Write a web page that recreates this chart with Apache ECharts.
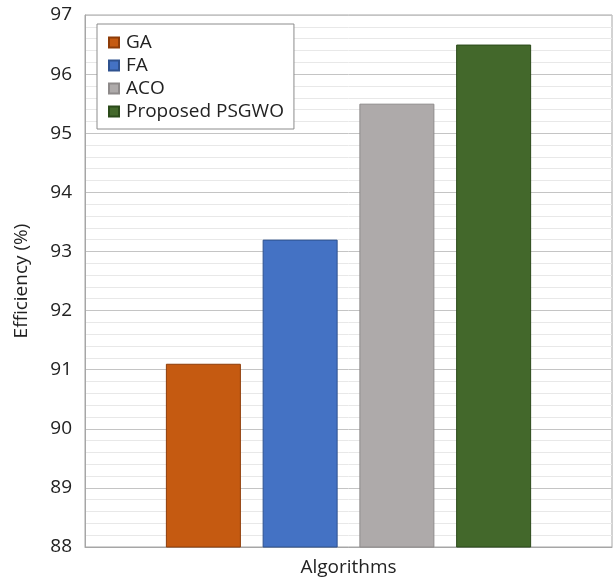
<!DOCTYPE html>
<html>
<head>
<meta charset="utf-8">
<script src="https://cdn.jsdelivr.net/npm/echarts@6/dist/echarts.min.js"></script>
<style>
  html, body { margin: 0; padding: 0; background: #fff; }
  #chart { width: 613px; height: 580px; }
</style>
</head>
<body>
<div id="chart"></div>
<script>
// Efficiency of each algorithm (%)
const categories = ['Algorithms'];
const algorithms = ['GA', 'FA', 'ACO', 'Proposed PSGWO'];
const efficiency = [91.1, 93.2, 95.5, 96.5];
const yTicks = { min: 88, max: 97, interval: 1 };

const fills = ['#C55A11', '#4472C4', '#AEAAAA', '#43682B'];
const edges = ['#8E3C08', '#2F528F', '#8E8A8A', '#2B4A1A'];
const font = '"Open Sans", "Liberation Sans", sans-serif';

const chart = echarts.init(document.getElementById('chart'), null, { renderer: 'canvas' });

const series = algorithms.map((name, i) => ({
  name: name,
  type: 'bar',
  data: [efficiency[i]],
  barWidth: 75,
  barGap: '29%',
  itemStyle: { color: fills[i], borderColor: edges[i], borderWidth: 1 }
}));

chart.setOption({
  animation: false,
  backgroundColor: '#ffffff',
  grid: {
    left: 85, top: 15, right: 1, bottom: 33,
    show: true, borderColor: '#A6A6A6', borderWidth: 1
  },
  legend: {
    data: algorithms,
    orient: 'vertical',
    left: 97, top: 24,
    itemWidth: 10, itemHeight: 10, itemGap: 4,
    icon: 'rect',
    padding: [9, 10, 8, 11],
    borderColor: '#8C8C8C', borderWidth: 1,
    backgroundColor: '#ffffff',
    textStyle: { fontFamily: font, fontSize: 19, color: '#222', padding: [0, 0, 0, 2] }
  },
  xAxis: {
    type: 'category',
    data: categories,
    axisLine: { lineStyle: { color: '#A6A6A6' } },
    axisTick: { show: false },
    axisLabel: { fontFamily: font, fontSize: 19, color: '#222', margin: 11 }
  },
  yAxis: {
    type: 'value',
    min: yTicks.min, max: yTicks.max, interval: yTicks.interval,
    name: 'Efficiency (%)',
    nameLocation: 'middle',
    nameGap: 54,
    nameTextStyle: { fontFamily: font, fontSize: 19, color: '#222' },
    axisLine: { show: true, lineStyle: { color: '#A6A6A6' } },
    axisTick: { show: false },
    axisLabel: { fontFamily: font, fontSize: 19, color: '#222', margin: 13 },
    splitLine: { lineStyle: { color: '#C4C4C4', width: 1 } },
    minorTick: { show: false, splitNumber: 5 },
    minorSplitLine: { show: true, lineStyle: { color: '#E8E8E8', width: 1 } }
  },
  series: series
});
</script>
</body>
</html>
